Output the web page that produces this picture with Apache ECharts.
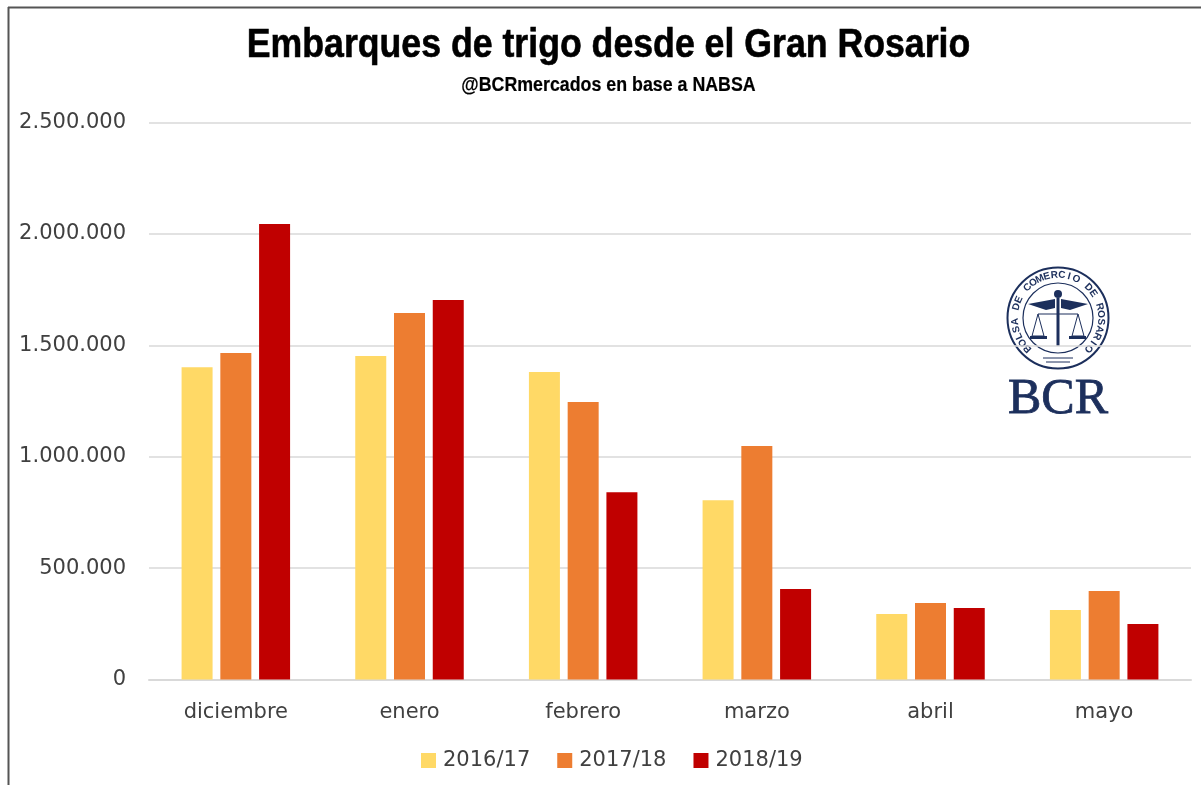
<!DOCTYPE html>
<html>
<head>
<meta charset="utf-8">
<title>Embarques de trigo desde el Gran Rosario</title>
<script src="https://cdn.jsdelivr.net/npm/echarts@6/dist/echarts.min.js"></script>
<style>
    html, body { margin: 0; padding: 0; background: #fff; }
    #chart { width: 1201px; height: 785px; }
</style>
</head>
<body>
<div id="chart"></div>
<script>
var months = ['diciembre', 'enero', 'febrero', 'marzo', 'abril', 'mayo'];
var seriesNames = ['2016/17', '2017/18', '2018/19'];
var values1617 = [1402000, 1452000, 1380000, 805000, 294000, 312000];
var values1718 = [1465000, 1645000, 1245000, 1048000, 343000, 397000];
var values1819 = [2044000, 1703000, 841000, 406000, 321000, 249000];
var colors = ['#ffd966', '#ed7d31', '#c00000'];

var titleText = 'Embarques de trigo desde el Gran Rosario';
var subtitleText = '@BCRmercados en base a NABSA';
var navy = '#1c2f5c';

function formatThousands(value) {
    return String(value).replace(/\B(?=(\d{3})+$)/g, '.');
}

function makeBar(name, data, color) {
    return {
        name: name,
        type: 'bar',
        barWidth: 31,
        barGap: '25%',
        data: data,
        itemStyle: { color: color }
    };
}

// no condensed font installed, so squeeze the bold sans
function narrowText(text, y, size, scale, strokeWidth) {
    return {
        type: 'text', x: 608.5, y: y, scaleX: scale,
        style: {
            text: text, fill: '#000', stroke: '#000', lineWidth: strokeWidth,
            font: 'bold ' + size + 'px "Liberation Sans"',
            textAlign: 'center', textVerticalAlign: 'middle'
        }
    };
}

// the BCR seal, drawn by hand
function logoGraphic() {
    var cx = 1058, cy = 318;
    var items = [
        { type: 'rect', shape: { x: 987, y: 262, width: 144, height: 160 }, style: { fill: '#fff' } },
        { type: 'circle', shape: { cx: cx, cy: cy, r: 50.5 }, style: { fill: 'none', stroke: navy, lineWidth: 2 } },
        { type: 'circle', shape: { cx: cx, cy: cy, r: 35 }, style: { fill: 'none', stroke: navy, lineWidth: 1.2 } },
        // wings
        { type: 'polygon', shape: { points: [[cx - 3, cy - 19], [cx - 30, cy - 14], [cx - 12, cy - 8], [cx - 3, cy - 10]] }, style: { fill: navy } },
        { type: 'polygon', shape: { points: [[cx + 3, cy - 19], [cx + 30, cy - 14], [cx + 12, cy - 8], [cx + 3, cy - 10]] }, style: { fill: navy } },
        // staff and head
        { type: 'circle', shape: { cx: cx, cy: cy - 24, r: 4 }, style: { fill: navy } },
        { type: 'line', shape: { x1: cx, y1: cy - 20, x2: cx, y2: cy + 28 }, style: { stroke: navy, lineWidth: 3 } },
        // scales
        { type: 'line', shape: { x1: cx - 20, y1: cy - 4, x2: cx + 20, y2: cy - 4 }, style: { stroke: navy, lineWidth: 1.2 } },
        { type: 'polygon', shape: { points: [[cx - 20, cy - 4], [cx - 26, cy + 18], [cx - 14, cy + 18]] }, style: { fill: 'none', stroke: navy, lineWidth: 1 } },
        { type: 'polygon', shape: { points: [[cx + 20, cy - 4], [cx + 26, cy + 18], [cx + 14, cy + 18]] }, style: { fill: 'none', stroke: navy, lineWidth: 1 } },
        { type: 'rect', shape: { x: cx - 28, y: cy + 18, width: 17, height: 3 }, style: { fill: navy } },
        { type: 'rect', shape: { x: cx + 11, y: cy + 18, width: 17, height: 3 }, style: { fill: navy } },
        { type: 'line', shape: { x1: cx - 15, y1: cy + 40, x2: cx + 15, y2: cy + 40 }, style: { stroke: navy, lineWidth: 1 } },
        { type: 'line', shape: { x1: cx - 12, y1: cy + 44, x2: cx + 12, y2: cy + 44 }, style: { stroke: navy, lineWidth: 1 } },
        {
            type: 'text', x: cx, y: 400,
            style: {
                text: 'BCR', fill: navy, stroke: navy, lineWidth: 0.8,
                font: '50px "Liberation Serif"',
                textAlign: 'center', textVerticalAlign: 'middle'
            }
        }
    ];

    // lettering round the ring
    var motto = 'BOLSA DE COMERCIO DE ROSARIO';
    var start = -Math.PI * 1.25, sweep = Math.PI * 1.5;
    motto.split('').forEach(function (ch, i) {
        var a = start + sweep * i / (motto.length - 1);
        items.push({
            type: 'text',
            x: cx + 43 * Math.cos(a),
            y: cy + 43 * Math.sin(a),
            rotation: -(a + Math.PI / 2),
            style: {
                text: ch, fill: navy,
                font: 'bold 10px "Liberation Sans"',
                textAlign: 'center', textVerticalAlign: 'middle'
            }
        });
    });
    return items;
}

function drawChart() {
    var myChart = echarts.init(document.getElementById('chart'));
    var labelColor = '#404040';
    var frame = [
        { type: 'line', shape: { x1: 8, y1: 7.5, x2: 1201, y2: 7.5 }, style: { stroke: '#555', lineWidth: 2 } },
        { type: 'line', shape: { x1: 8.5, y1: 7, x2: 8.5, y2: 785 }, style: { stroke: '#555', lineWidth: 2 } }
    ];
    var headings = [
        narrowText(titleText, 46, 41, 0.87, 0.6),
        narrowText(subtitleText, 85, 20, 0.89, 0.2)
    ];
    var option = {
        animation: false,
        backgroundColor: '#fff',
        color: colors,
        legend: {
            data: seriesNames,
            left: 416,
            top: 745,
            icon: 'rect',
            itemWidth: 15,
            itemHeight: 15,
            itemGap: 27,
            textStyle: { fontFamily: 'DejaVu Sans', fontSize: 21, color: labelColor, padding: [0, 0, 0, 2] }
        },
        grid: { left: 149, right: 10, top: 122.5, bottom: 105.5, containLabel: false },
        xAxis: {
            type: 'category',
            data: months,
            axisTick: { show: false },
            axisLine: { lineStyle: { color: '#d9d9d9', width: 2 } },
            axisLabel: { fontFamily: 'DejaVu Sans', fontSize: 21, color: labelColor, margin: 23 }
        },
        yAxis: {
            type: 'value',
            min: 0,
            max: 2500000,
            interval: 500000,
            axisLine: { show: false },
            axisTick: { show: false },
            splitLine: { lineStyle: { color: '#d9d9d9', width: 1.5 } },
            axisLabel: {
                fontFamily: 'DejaVu Sans',
                fontSize: 21,
                color: labelColor,
                margin: 23,
                padding: [2, 0, 0, 0],
                formatter: formatThousands
            }
        },
        series: [
            makeBar(seriesNames[0], values1617, colors[0]),
            makeBar(seriesNames[1], values1718, colors[1]),
            makeBar(seriesNames[2], values1819, colors[2])
        ],
        graphic: frame.concat(headings, logoGraphic())
    };
    myChart.setOption(option);
}

drawChart();
</script>
</body>
</html>
